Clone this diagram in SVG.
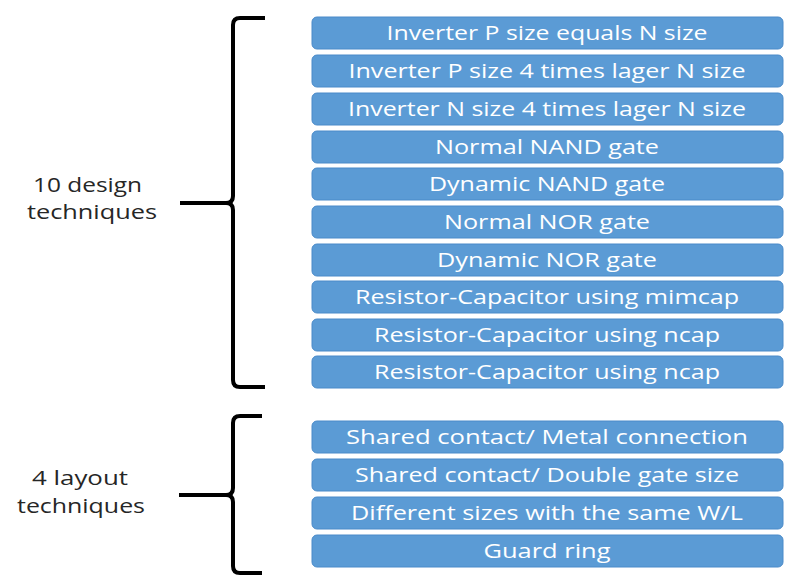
<svg xmlns="http://www.w3.org/2000/svg" width="792" height="585" viewBox="0 0 792 585">
<style>
.box{fill:#5b9bd5;stroke:#4a8ac9;stroke-width:1}
.bt{font-family:"Open Sans","Liberation Sans",sans-serif;font-size:20px;fill:#ffffff;text-anchor:middle}
.lbl{font-family:"Open Sans","Liberation Sans",sans-serif;font-size:20px;fill:#262626}
.brace{fill:none;stroke:#000;stroke-width:4;stroke-linejoin:round}
</style>
<rect width="792" height="585" fill="#ffffff"/>
<g id="connectors">
<path class="brace" d="M265,18 H240 Q233,18 233,25 V196 Q233,203 226,203 H180 M226,203 Q233,203 233,210 V380 Q233,387 240,387 H265"/>
<path class="brace" d="M262,416 H240 Q233,416 233,423 V488 Q233,495 226,495 H179 M226,495 Q233,495 233,502 V566 Q233,573 240,573 H262"/>
</g>
<g id="label-design">
<text class="lbl" x="33" y="192" textLength="109" lengthAdjust="spacingAndGlyphs">10 design</text>
<text class="lbl" x="27" y="219" textLength="130" lengthAdjust="spacingAndGlyphs">techniques</text>
</g>
<g id="label-layout">
<text class="lbl" x="32" y="485" textLength="96" lengthAdjust="spacingAndGlyphs">4 layout</text>
<text class="lbl" x="17" y="513" textLength="128" lengthAdjust="spacingAndGlyphs">techniques</text>
</g>
<g id="n1"><rect class="box" x="312" y="17" width="471" height="32" rx="5"/><text class="bt" x="547" y="40" textLength="321" lengthAdjust="spacingAndGlyphs">Inverter P size equals N size</text></g>
<g id="n2"><rect class="box" x="312" y="55" width="471" height="32" rx="5"/><text class="bt" x="547" y="78" textLength="397" lengthAdjust="spacingAndGlyphs">Inverter P size 4 times lager N size</text></g>
<g id="n3"><rect class="box" x="312" y="93" width="471" height="32" rx="5"/><text class="bt" x="547" y="116" textLength="398" lengthAdjust="spacingAndGlyphs">Inverter N size 4 times lager N size</text></g>
<g id="n4"><rect class="box" x="312" y="131" width="471" height="32" rx="5"/><text class="bt" x="547" y="154" textLength="224" lengthAdjust="spacingAndGlyphs">Normal NAND gate</text></g>
<g id="n5"><rect class="box" x="312" y="168" width="471" height="32" rx="5"/><text class="bt" x="547" y="191" textLength="236" lengthAdjust="spacingAndGlyphs">Dynamic NAND gate</text></g>
<g id="n6"><rect class="box" x="312" y="206" width="471" height="32" rx="5"/><text class="bt" x="547" y="229" textLength="206" lengthAdjust="spacingAndGlyphs">Normal NOR gate</text></g>
<g id="n7"><rect class="box" x="312" y="244" width="471" height="32" rx="5"/><text class="bt" x="547" y="267" textLength="220" lengthAdjust="spacingAndGlyphs">Dynamic NOR gate</text></g>
<g id="n8"><rect class="box" x="312" y="281" width="471" height="32" rx="5"/><text class="bt" x="547" y="304" textLength="384" lengthAdjust="spacingAndGlyphs">Resistor-Capacitor using mimcap</text></g>
<g id="n9"><rect class="box" x="312" y="319" width="471" height="32" rx="5"/><text class="bt" x="547" y="342" textLength="346" lengthAdjust="spacingAndGlyphs">Resistor-Capacitor using ncap</text></g>
<g id="n10"><rect class="box" x="312" y="356" width="471" height="32" rx="5"/><text class="bt" x="547" y="379" textLength="346" lengthAdjust="spacingAndGlyphs">Resistor-Capacitor using ncap</text></g>
<g id="n11"><rect class="box" x="312" y="421" width="471" height="32" rx="5"/><text class="bt" x="547" y="444" textLength="402" lengthAdjust="spacingAndGlyphs">Shared contact/ Metal connection</text></g>
<g id="n12"><rect class="box" x="312" y="459" width="471" height="32" rx="5"/><text class="bt" x="547" y="482" textLength="384" lengthAdjust="spacingAndGlyphs">Shared contact/ Double gate size</text></g>
<g id="n13"><rect class="box" x="312" y="497" width="471" height="32" rx="5"/><text class="bt" x="547" y="520" textLength="392" lengthAdjust="spacingAndGlyphs">Different sizes with the same W/L</text></g>
<g id="n14"><rect class="box" x="312" y="535" width="471" height="32" rx="5"/><text class="bt" x="547" y="558" textLength="127" lengthAdjust="spacingAndGlyphs">Guard ring</text></g>
</svg>
